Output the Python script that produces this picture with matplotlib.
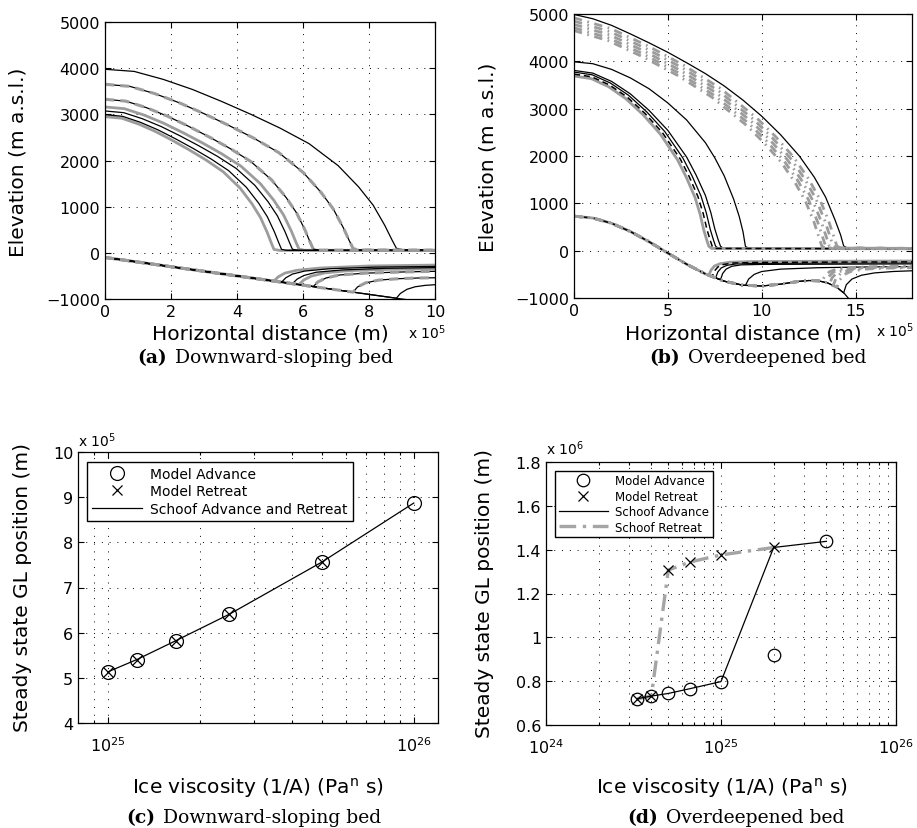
import numpy as np
import matplotlib
matplotlib.use('Agg')
import matplotlib.pyplot as plt
from matplotlib.lines import Line2D
from matplotlib.ticker import FixedLocator, FixedFormatter, NullFormatter

plt.rcParams['font.family'] = ['DejaVu Sans']
plt.rcParams['mathtext.fontset'] = 'dejavusans'

# ---------------------------------------------------------------- panel (a) data
# distances in units of 1e5 m, elevations in m
a_bed_x = [0, 10]
a_bed_y = [-100, -1100]

# surfaces (ice sheet + shelf) for the black profiles
a_black_sx = [
    [0, 0.883, 1.766, 2.649, 3.532, 4.415, 5.298, 6.181, 7.064, 7.682, 8.124, 8.477, 8.698, 8.83, 9.0, 10.0],
    [0, 0.752, 1.504, 2.256, 3.008, 3.76, 4.512, 5.264, 6.016, 6.542, 6.918, 7.219, 7.407, 7.52, 7.7, 10.0],
    [0, 0.631, 1.262, 1.893, 2.524, 3.155, 3.786, 4.417, 5.048, 5.49, 5.805, 6.058, 6.215, 6.31, 6.5, 10.0],
    [0, 0.568, 1.136, 1.704, 2.272, 2.84, 3.408, 3.976, 4.544, 4.942, 5.226, 5.453, 5.595, 5.68, 5.85, 10.0],
    [0, 0.535, 1.07, 1.605, 2.14, 2.675, 3.21, 3.745, 4.28, 4.655, 4.922, 5.136, 5.27, 5.35, 5.5, 10.0],
]
a_black_sy = [
    [3976, 3930, 3757, 3539, 3280, 3002, 2704, 2366, 1889, 1431, 1034, 596, 278, 99, 70, 65],
    [3651, 3606, 3450, 3249, 3012, 2757, 2483, 2172, 1734, 1314, 949, 548, 256, 91, 62, 58],
    [3326, 3286, 3143, 2960, 2744, 2511, 2262, 1979, 1580, 1197, 865, 499, 233, 83, 58, 55],
    [3073, 3036, 2904, 2735, 2535, 2320, 2090, 1828, 1460, 1106, 799, 461, 215, 77, 55, 52],
    [2993, 2957, 2828, 2664, 2469, 2260, 2035, 1781, 1422, 1077, 778, 449, 210, 75, 54, 50],
]
# lower surfaces (bed up to grounding line, then shelf base)
a_black_bx = [
    [0, 8.83, 8.95, 9.15, 9.4, 9.7, 10],
    [0, 7.52, 7.65, 7.9, 8.3, 8.9, 9.5, 10],
    [0, 6.31, 6.45, 6.7, 7.1, 7.9, 9.0, 10],
    [0, 5.68, 5.82, 6.03, 6.4, 7.2, 8.5, 10],
    [0, 5.35, 5.48, 5.68, 6.05, 6.8, 8.2, 10],
]
a_black_by = [
    [-100, -983, -880, -790, -735, -705, -690],
    [-100, -852, -740, -650, -590, -560, -545, -540],
    [-100, -731, -630, -545, -480, -440, -415, -400],
    [-100, -668, -570, -490, -420, -370, -335, -320],
    [-100, -635, -540, -460, -395, -345, -310, -295],
]
a_dashed = [1, 2]  # black profiles that carry a grey dashed twin

a_gray_sx = [
    [0, 0.588, 1.176, 1.764, 2.352, 2.94, 3.528, 4.116, 4.704, 5.116, 5.41, 5.645, 5.792, 5.88, 6.05, 10.0],
    [0, 0.512, 1.024, 1.536, 2.048, 2.56, 3.072, 3.584, 4.096, 4.454, 4.71, 4.915, 5.043, 5.12, 5.3, 10.0],
]
a_gray_sy = [
    [3160, 3122, 2986, 2812, 2607, 2386, 2149, 1880, 1501, 1138, 822, 474, 221, 79, 56, 52],
    [2950, 2915, 2788, 2626, 2434, 2227, 2006, 1755, 1401, 1062, 767, 443, 207, 74, 52, 48],
]
a_gray_bx = [
    [0, 5.88, 6.02, 6.25, 6.65, 7.4, 8.7, 10],
    [0, 5.12, 5.25, 5.45, 5.8, 6.5, 8, 10],
]
a_gray_by = [
    [-100, -688, -590, -505, -435, -385, -355, -345],
    [-100, -612, -520, -440, -380, -330, -285, -265],
]

# ---------------------------------------------------------------- panel (b) data
b_bed_x = np.array([0, 1, 2, 3, 4, 5, 6, 7, 8, 9, 10, 11, 12, 12.5, 13, 13.5, 14, 14.4, 14.8, 15.2])
b_bed_y = np.array([729, 690, 579, 405, 188, -52, -287, -492, -645, -731, -747, -707, -648, -631,
                    -637, -680, -776, -905, -1094, -1300])

b_black_sx = [
    [0, 1, 2, 3, 4, 5, 6, 7, 8, 9, 10, 11, 12, 12.8, 13.4, 13.9, 14.2, 14.36, 14.55, 18],
    [0, 1, 2, 3, 4, 5, 6, 7, 7.5, 8, 8.5, 8.8, 9.0, 9.13, 9.3, 18],
    [0, 1.0, 2.0, 3.0, 4.0, 5.0, 6.0, 6.5, 7.0, 7.29, 7.5, 7.68, 7.8, 7.95, 18],
    [0, 0.965, 1.93, 2.903, 3.868, 4.833, 5.798, 6.281, 6.763, 7.05, 7.253, 7.427, 7.54, 7.69, 18],
]
b_black_sy = [
    [4990, 4900, 4760, 4580, 4390, 4190, 3970, 3740, 3480, 3180, 2840, 2450, 2000, 1550, 1130, 650, 330, 100, 55, 45],
    [3990, 3950, 3830, 3650, 3420, 3120, 2760, 2280, 1960, 1580, 1090, 720, 400, 90, 50, 42],
    [3808, 3751, 3576, 3313, 2963, 2540, 1976, 1599, 1165, 800, 457, 228, 95, 48, 40],
    [3773, 3716, 3543, 3283, 2935, 2517, 1958, 1585, 1155, 792, 453, 226, 94, 48, 40],
]
b_black_gl = [14.36, 9.13, 7.8, 7.54]
b_black_shx = [
    [14.36, 14.5, 14.8, 15.3, 16.0, 17.0, 18.0],
    [9.13, 9.3, 9.6, 10.0, 11.0, 13.0, 15.5, 18.0],
    [7.8, 7.92, 8.1, 8.4, 8.9, 10, 14, 18],
    [7.54, 7.66, 7.84, 8.14, 8.64, 9.8, 14, 18],
]
b_black_shy = [
    [-892, -720, -600, -520, -470, -440, -425],
    [-733, -600, -500, -440, -390, -360, -345, -335],
    [-614, -480, -390, -330, -300, -290, -285, -280],
    [-575, -450, -365, -310, -280, -268, -262, -258],
]

# black dashed profile
b_kdash_sx = [0, 0.942, 1.884, 2.834, 3.776, 4.718, 5.66, 6.131, 6.602, 6.882, 7.08, 7.25, 7.36, 7.51, 18]
b_kdash_sy = [3730, 3674, 3502, 3245, 2902, 2488, 1936, 1567, 1141, 783, 448, 224, 93, 47, 40]
b_kdash_gl = 7.36
b_kdash_shx = [7.36, 7.48, 7.66, 7.96, 8.46, 9.6, 14, 18]
b_kdash_shy = [-547, -430, -345, -292, -262, -250, -242, -238]

# grey solid profile
b_gray_sx = [0, 0.919, 1.838, 2.764, 3.683, 4.602, 5.521, 5.981, 6.44, 6.713, 6.907, 7.072, 7.18, 7.33, 18]
b_gray_sy = [3690, 3635, 3465, 3210, 2871, 2461, 1915, 1550, 1129, 775, 443, 221, 92, 47, 40]
b_gray_gl = 7.18
b_gray_shx = [7.18, 7.3, 7.48, 7.78, 8.28, 9.4, 14, 18]
b_gray_shy = [-519, -410, -325, -275, -245, -230, -222, -218]

# grey dash-dot profiles (large sheets)
b_dd_sx = [
    [0, 1.95, 3.91, 5.85, 7.80, 9.74, 10.72, 11.70, 12.47, 13.06, 13.55, 14.0, 14.2, 18],
    [0, 1.92, 3.85, 5.77, 7.69, 9.60, 10.57, 11.54, 12.30, 12.88, 13.36, 13.8, 14.0, 18],
    [0, 1.89, 3.79, 5.68, 7.58, 9.47, 10.42, 11.37, 12.12, 12.69, 13.16, 13.6, 13.8, 18],
    [0, 1.86, 3.74, 5.60, 7.46, 9.33, 10.26, 11.20, 11.94, 12.50, 12.97, 13.4, 13.6, 18],
    [0, 1.83, 3.68, 5.52, 7.35, 9.19, 10.11, 11.04, 11.76, 12.32, 12.78, 13.2, 13.4, 18],
]
b_dd_sy = [
    [4920, 4694, 4330, 3916, 3429, 2799, 2416, 1973, 1530, 1112, 640, 98, 55, 48],
    [4850, 4627, 4268, 3861, 3380, 2760, 2381, 1945, 1508, 1096, 631, 97, 55, 48],
    [4780, 4560, 4206, 3805, 3332, 2720, 2347, 1917, 1487, 1080, 621, 96, 55, 48],
    [4710, 4493, 4145, 3749, 3283, 2680, 2313, 1889, 1465, 1064, 612, 94, 55, 48],
    [4650, 4436, 4092, 3701, 3241, 2646, 2283, 1865, 1446, 1051, 605, 93, 55, 48],
]
b_dd_gl = [14.0, 13.8, 13.6, 13.4, 13.2]
b_dd_shx = [
    [14.0, 14.15, 14.4, 14.8, 15.5, 16.5, 18.0],
    [13.8, 13.95, 14.2, 14.6, 15.3, 16.5, 18],
    [13.6, 13.75, 14.0, 14.4, 15.1, 16.3, 18],
    [13.4, 13.55, 13.8, 14.2, 14.9, 16.1, 18],
    [13.2, 13.35, 13.6, 14.0, 14.7, 15.9, 18],
]
b_dd_shy = [
    [-776, -620, -500, -430, -390, -370, -360],
    [-738, -590, -480, -415, -380, -360, -350],
    [-699, -570, -465, -405, -370, -352, -342],
    [-671, -555, -455, -395, -362, -345, -335],
    [-654, -540, -445, -388, -355, -338, -328],
]

# ---------------------------------------------------------------- panel (c) data
c_visc = [1e25, 1.25e25, 1.667e25, 2.5e25, 5e25, 1e26]
c_adv = [5.12, 5.40, 5.81, 6.41, 7.56, 8.88]
c_ret_visc = [1e25, 1.25e25, 1.667e25, 2.5e25, 5e25]
c_ret = [5.12, 5.40, 5.81, 6.41, 7.56]
c_schoof = [5.13, 5.41, 5.82, 6.41, 7.56, 8.87]

# ---------------------------------------------------------------- panel (d) data
d_visc = [3.33e24, 4e24, 5e24, 6.67e24, 1e25, 2e25, 4e25]
d_adv = [0.72, 0.732, 0.744, 0.766, 0.798, 0.918, 1.438]
d_ret_visc = [3.33e24, 4e24, 5e24, 6.67e24, 1e25, 2e25]
d_ret = [0.72, 0.732, 1.307, 1.344, 1.376, 1.41]
d_sch_adv = [0.72, 0.732, 0.744, 0.766, 0.798, 1.41, 1.438]
d_sch_ret = [0.72, 0.732, 1.307, 1.344, 1.376, 1.41]

# ---------------------------------------------------------------- figure
W, H = 917, 829
fig = plt.figure(figsize=(W / 100, H / 100), dpi=100)
GRAY = '#9c9c9c'
LWK = 0.9
TICK_FS = 11.5
LAB_FS = 14.5


def box(l, t, r, b):
    return [l / W, 1 - b / H, (r - l) / W, (b - t) / H]


def ftext(x, y, s, **kw):
    fig.text(x / W, 1 - y / H, s, **kw)


def matlab_style(ax):
    ax.tick_params(which='both', direction='in', top=True, right=True,
                   labelsize=TICK_FS, width=0.8)
    ax.tick_params(which='major', length=4)
    ax.tick_params(which='minor', length=2)
    for sp in ax.spines.values():
        sp.set_linewidth(0.9)
    ax.set_axisbelow(True)


def caption(xc, y, tag, text):
    ftext(xc, y, tag, ha='right', va='center', fontsize=13.5,
          family='DejaVu Serif', weight='bold')
    ftext(xc + 8, y, text, ha='left', va='center', fontsize=13.5,
          family='DejaVu Serif')


GRID = dict(color='k', linestyle=(0, (1, 7)), linewidth=0.7)

# ---------------------------------------------------------------- (a)
ax = fig.add_axes(box(105, 23, 435, 300))
ax.plot(a_bed_x, a_bed_y, color='k', lw=LWK)
for sx, sy, bx, by in zip(a_gray_sx, a_gray_sy, a_gray_bx, a_gray_by):
    ax.plot(sx, sy, color=GRAY, lw=2.0)
    ax.plot(bx, by, color=GRAY, lw=2.0)
for sx, sy, bx, by in zip(a_black_sx, a_black_sy, a_black_bx, a_black_by):
    ax.plot(sx, sy, color='k', lw=LWK)
    ax.plot(bx, by, color='k', lw=LWK)
for i in a_dashed:
    ax.plot(a_black_sx[i], a_black_sy[i], color=GRAY, lw=2.2, dashes=(3, 2))
    ax.plot(a_black_bx[i], a_black_by[i], color=GRAY, lw=2.2, dashes=(3, 2))
ax.set_xlim(0, 10)
ax.set_ylim(-1000, 5000)
ax.set_xticks(range(0, 11, 2))
ax.set_yticks(range(-1000, 5001, 1000))
ax.grid(True, **GRID)
matlab_style(ax)
ftext(18, 162, 'Elevation (m a.s.l.)', rotation=90, ha='center', va='center', fontsize=LAB_FS)
ftext(270, 334, 'Horizontal distance (m)', ha='center', va='center', fontsize=LAB_FS)
ftext(408, 333, r'x 10$^{5}$', ha='left', va='center', fontsize=10)
caption(167, 358, '(a)', 'Downward-sloping bed')

# ---------------------------------------------------------------- (b)
ax = fig.add_axes(box(574, 15, 912, 299))
ax.plot(b_bed_x, b_bed_y, color='k', lw=LWK)


def lower(gl, shx, shy):
    m = b_bed_x < gl
    return list(b_bed_x[m]) + list(shx), list(b_bed_y[m]) + list(shy)


for sx, sy, gl, shx, shy in zip(b_black_sx, b_black_sy, b_black_gl, b_black_shx, b_black_shy):
    ax.plot(sx, sy, color='k', lw=LWK)
    lx, ly = lower(gl, shx, shy)
    ax.plot(lx, ly, color='k', lw=LWK)

ax.plot(b_gray_sx, b_gray_sy, color=GRAY, lw=2.0)
lx, ly = lower(b_gray_gl, b_gray_shx, b_gray_shy)
ax.plot(lx, ly, color=GRAY, lw=2.0)

ax.plot(b_kdash_sx, b_kdash_sy, color='k', lw=1.1, dashes=(4, 2.5))
lx, ly = lower(b_kdash_gl, b_kdash_shx, b_kdash_shy)
ax.plot(lx, ly, color='k', lw=1.1, dashes=(4, 2.5))

for sx, sy, gl, shx, shy in zip(b_dd_sx, b_dd_sy, b_dd_gl, b_dd_shx, b_dd_shy):
    ax.plot(sx, sy, color=GRAY, lw=2.0, dashes=(3, 2, 0.6, 2))
    lx, ly = lower(gl, shx, shy)
    ax.plot(lx, ly, color=GRAY, lw=2.0, dashes=(3, 2, 0.6, 2))

ax.set_xlim(0, 18)
ax.set_ylim(-1000, 5000)
ax.set_xticks([0, 5, 10, 15])
ax.set_yticks(range(-1000, 5001, 1000))
ax.grid(True, **GRID)
matlab_style(ax)
ftext(488, 157, 'Elevation (m a.s.l.)', rotation=90, ha='center', va='center', fontsize=LAB_FS)
ftext(743, 334, 'Horizontal distance (m)', ha='center', va='center', fontsize=LAB_FS)
ftext(876, 331, r'x 10$^{5}$', ha='left', va='center', fontsize=10)
caption(680, 358, '(b)', 'Overdeepened bed')

# ---------------------------------------------------------------- (c)
ax = fig.add_axes(box(78, 453, 438, 724))
ax.set_xscale('log')
ax.plot(c_visc, c_schoof, color='k', lw=LWK)
ax.plot(c_visc, c_adv, ls='none', marker='o', ms=10, mfc='none', mec='k', mew=0.9)
ax.plot(c_ret_visc, c_ret, ls='none', marker='x', ms=7, color='k', mew=0.9)
ax.set_xlim(8e24, 1.2e26)
ax.set_ylim(4, 10)
ax.set_yticks(range(4, 11))
ax.xaxis.set_major_locator(FixedLocator([1e25, 1e26]))
ax.xaxis.set_major_formatter(FixedFormatter([r'$10^{25}$', r'$10^{26}$']))
ax.xaxis.set_minor_locator(FixedLocator([9e24] + [k * 1e25 for k in range(2, 10)]))
ax.xaxis.set_minor_formatter(NullFormatter())
ax.grid(True, which='major', **GRID)
ax.grid(True, which='minor', axis='x', **GRID)
matlab_style(ax)
ax.tick_params(axis='x', pad=9)
handles = [
    Line2D([], [], ls='none', marker='o', ms=10, mfc='none', mec='k', mew=0.9, label='Model Advance'),
    Line2D([], [], ls='none', marker='x', ms=7, color='k', mew=0.9, label='Model Retreat'),
    Line2D([], [], color='k', lw=LWK, label='Schoof Advance and Retreat'),
]
leg = ax.legend(handles=handles, loc='upper left', bbox_to_anchor=(0.025, 0.963), fontsize=10,
                frameon=True, fancybox=False, framealpha=1, edgecolor='k', handlelength=3.6,
                handletextpad=0.6, borderpad=0.35, labelspacing=0.25, borderaxespad=0)
leg.get_frame().set_linewidth(1.0)
ftext(23, 588, 'Steady state GL position (m)', rotation=90, ha='center', va='center', fontsize=LAB_FS)
ftext(258, 788, r'Ice viscosity (1/A) (Pa$^{\mathregular{n}}$ s)', ha='center', va='center', fontsize=LAB_FS)
ftext(78, 441, r'x 10$^{5}$', ha='left', va='center', fontsize=10)
caption(155, 818, '(c)', 'Downward-sloping bed')

# ---------------------------------------------------------------- (d)
ax = fig.add_axes(box(546, 463, 896, 726))
ax.set_xscale('log')
ax.plot(d_ret_visc, d_sch_ret, color='#a5a5a5', lw=2.4, dashes=(5, 2, 1, 2))
ax.plot(d_visc, d_sch_adv, color='k', lw=LWK)
ax.plot(d_visc, d_adv, ls='none', marker='o', ms=9, mfc='none', mec='k', mew=0.9)
ax.plot(d_ret_visc, d_ret, ls='none', marker='x', ms=7, color='k', mew=0.9)
ax.set_xlim(1e24, 1e26)
ax.set_ylim(0.6, 1.8)
ax.set_yticks([0.6, 0.8, 1.0, 1.2, 1.4, 1.6, 1.8])
ax.set_yticklabels(['0.6', '0.8', '1', '1.2', '1.4', '1.6', '1.8'])
ax.xaxis.set_major_locator(FixedLocator([1e24, 1e25, 1e26]))
ax.xaxis.set_major_formatter(FixedFormatter([r'$10^{24}$', r'$10^{25}$', r'$10^{26}$']))
ax.xaxis.set_minor_locator(FixedLocator([k * 1e24 for k in range(2, 10)] + [k * 1e25 for k in range(2, 10)]))
ax.xaxis.set_minor_formatter(NullFormatter())
ax.grid(True, which='major', **GRID)
ax.grid(True, which='minor', axis='x', **GRID)
matlab_style(ax)
ax.tick_params(axis='x', pad=9)
handles = [
    Line2D([], [], ls='none', marker='o', ms=9, mfc='none', mec='k', mew=0.9, label='Model Advance'),
    Line2D([], [], ls='none', marker='x', ms=7, color='k', mew=0.9, label='Model Retreat'),
    Line2D([], [], color='k', lw=LWK, label='Schoof Advance'),
    Line2D([], [], color='#a5a5a5', lw=2.4, dashes=(5, 2, 1, 2), label='Schoof Retreat'),
]
leg = ax.legend(handles=handles, loc='upper left', bbox_to_anchor=(0.026, 0.966), fontsize=8.5,
                frameon=True, fancybox=False, framealpha=1, edgecolor='k', handlelength=4.2,
                handletextpad=0.6, borderpad=0.3, labelspacing=0.2, borderaxespad=0)
leg.get_frame().set_linewidth(1.0)
ftext(485, 594, 'Steady state GL position (m)', rotation=90, ha='center', va='center', fontsize=LAB_FS)
ftext(722, 788, r'Ice viscosity (1/A) (Pa$^{\mathregular{n}}$ s)', ha='center', va='center', fontsize=LAB_FS)
ftext(546, 449, r'x 10$^{6}$', ha='left', va='center', fontsize=10)
caption(658, 818, '(d)', 'Overdeepened bed')

fig.savefig('out.png', dpi=100)
